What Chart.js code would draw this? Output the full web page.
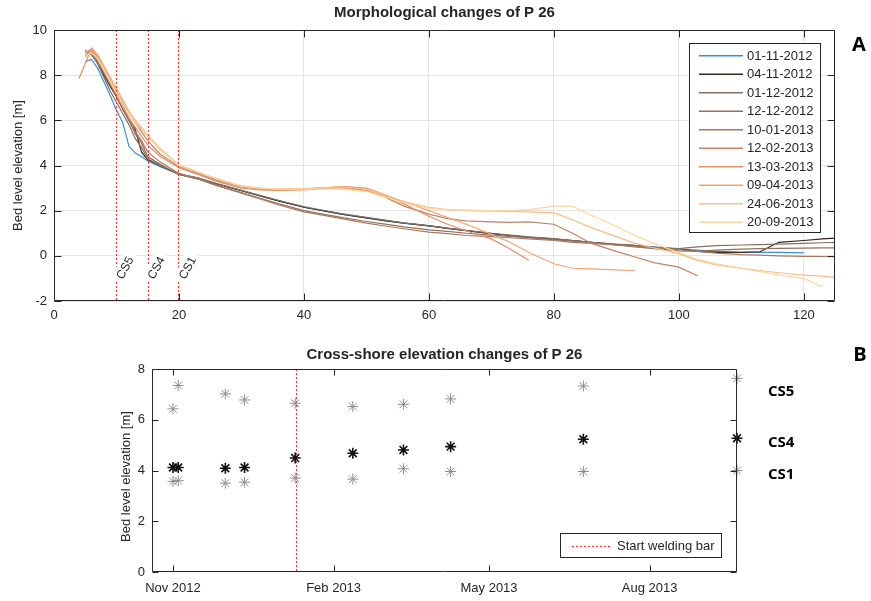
<!DOCTYPE html>
<html><head><meta charset="utf-8">
<script src="https://cdn.jsdelivr.net/npm/chart.js@4"></script>
<style>
html,body{margin:0;padding:0;background:#fff;}
#wrap{position:relative;width:871px;height:601px;overflow:hidden;background:#fff;}
canvas{position:absolute;left:0;}
#c1{top:0;}
#c2{top:330px;}
</style></head><body>
<div id="wrap">
<canvas id="c1" width="871" height="330" style="width:871px;height:330px"></canvas>
<canvas id="c2" width="871" height="271" style="width:871px;height:271px"></canvas>
</div>
<script>
// ---------------- DATA: panel A (profiles) ----------------
const profileDates = ['01-11-2012','04-11-2012','01-12-2012','12-12-2012','10-01-2013','12-02-2013','13-03-2013','09-04-2013','24-06-2013','20-09-2013'];
const distance = [4,5,6,7,8,9,10,11,12,13,14,15,17,20,23,26,30,33,36,40,43,46,50,53,56,60,63,66,70,73,76,80,83,86,90,93,96,100,103,106,110,113,116,120,123,125];
const elev_01_11_2012 = [null,8.6,8.7,8.3,7.7,7.1,6.45,5.9,4.85,4.55,4.4,4.2,3.95,3.62,3.45,3.2,2.9,2.65,2.45,2.15,2.0,1.85,1.68,1.55,1.45,1.33,1.22,1.12,0.98,0.9,0.83,0.75,0.68,0.6,0.5,0.45,0.4,0.3,0.25,0.2,0.15,0.15,0.15,0.13,null,null];
const elev_04_11_2012 = [null,8.9,9.0,8.6,8.0,7.5,7.05,6.5,6.0,5.6,4.6,4.25,4.0,3.6,3.42,3.18,2.88,2.65,2.42,2.15,2.0,1.85,1.68,1.56,1.45,1.33,1.22,1.12,0.98,0.9,0.82,0.74,0.67,0.6,0.5,0.45,0.38,0.3,0.2,0.15,0.15,0.18,0.6,0.68,0.75,0.78];
const elev_01_12_2012 = [null,9.1,8.9,8.5,7.9,7.3,6.8,6.3,5.8,5.2,4.8,4.3,4.0,3.62,3.45,3.2,2.9,2.68,2.45,2.18,2.02,1.87,1.7,1.58,1.46,1.34,1.23,1.13,1.0,0.92,0.84,0.76,0.68,0.6,0.52,0.46,0.38,0.32,0.4,0.45,0.48,0.5,0.52,0.55,0.58,0.6];
const elev_12_12_2012 = [null,8.8,9.0,8.6,8.1,7.6,7.1,6.5,6.0,5.4,5.0,4.4,4.05,3.6,3.4,3.12,2.8,2.55,2.3,2.0,1.85,1.7,1.52,1.4,1.28,1.15,1.08,1.0,0.92,0.86,0.8,0.72,0.65,0.58,0.48,0.4,0.32,0.22,0.2,0.25,0.3,0.32,0.33,0.34,0.35,0.35];
const elev_10_01_2013 = [null,9.0,9.1,8.7,8.2,7.7,7.2,6.6,6.1,5.5,5.1,4.6,4.15,3.65,3.42,3.12,2.78,2.52,2.25,1.95,1.8,1.65,1.45,1.32,1.2,1.05,0.98,0.9,0.85,0.8,0.75,0.68,0.6,0.55,0.48,0.42,0.35,0.28,0.2,0.12,0.05,0.03,0.0,-0.02,-0.03,-0.04];
const elev_12_02_2013 = [null,9.0,9.15,8.8,8.3,7.8,7.3,6.8,6.3,5.9,5.5,5.1,4.5,3.95,3.65,3.35,3.05,2.95,2.92,2.95,3.0,3.05,2.9,2.6,2.2,1.85,1.65,1.55,1.5,1.48,1.5,1.4,1.0,0.55,0.2,-0.05,-0.3,-0.5,-0.88,null,null,null,null,null,null,null];
const elev_13_03_2013 = [7.85,8.5,9.2,8.9,8.3,7.7,7.1,6.6,6.1,5.7,5.3,4.9,4.4,3.9,3.6,3.3,3.0,2.92,2.9,2.92,2.98,3.08,3.0,2.7,2.3,1.75,1.4,1.1,0.75,0.3,-0.2,null,null,null,null,null,null,null,null,null,null,null,null,null,null,null];
const elev_09_04_2013 = [null,9.0,9.1,8.9,8.4,7.9,7.4,6.9,6.4,6.0,5.6,5.3,4.7,4.0,3.7,3.4,3.05,2.95,2.95,2.98,3.0,3.0,2.88,2.65,2.4,2.0,1.7,1.4,0.95,0.6,0.15,-0.35,-0.55,-0.58,-0.62,-0.66,null,null,null,null,null,null,null,null,null,null];
const elev_24_06_2013 = [null,8.9,9.0,8.8,8.3,7.8,7.3,6.8,6.4,6.0,5.7,5.35,4.75,4.02,3.72,3.42,3.1,3.0,2.95,2.95,3.02,3.05,2.95,2.7,2.4,2.15,2.05,2.0,1.98,1.97,1.95,1.9,1.6,1.25,0.85,0.55,0.35,0.1,-0.2,-0.4,-0.55,-0.65,-0.75,-0.85,-0.9,-0.95];
const elev_20_09_2013 = [null,8.8,9.0,8.7,8.2,7.7,7.2,6.7,6.3,5.9,5.6,5.3,4.7,4.0,3.7,3.4,3.1,3.0,2.95,2.95,2.95,2.95,2.85,2.6,2.35,2.1,2.05,2.02,2.0,2.0,2.05,2.2,2.2,1.8,1.3,0.9,0.55,0.15,-0.15,-0.35,-0.55,-0.7,-0.85,-1.0,-1.38,null];
const topXTicks = [0,20,40,60,80,100,120];
const topYTicks = [-2,0,2,4,6,8,10];
const crossSectionDist = [10,15,20];
const crossSectionNames = ['CS5','CS4','CS1'];

// ---------------- DATA: panel B (cross-shore elevations) ----------------
const surveyDates = ['2012-11-01','2012-11-04','2012-12-01','2012-12-12','2013-01-10','2013-02-12','2013-03-13','2013-04-09','2013-06-24','2013-09-20'];
const cs5Elev = [6.43,7.35,7.02,6.78,6.65,6.52,6.61,6.82,7.33,7.63];
const cs4Elev = [4.12,4.12,4.09,4.12,4.49,4.68,4.81,4.94,5.23,5.27];
const cs1Elev = [3.57,3.60,3.50,3.54,3.70,3.66,4.07,3.96,3.96,4.00];
const weldDate = '2013-01-10';
const bottomXTickDates = ['2012-11-01','2013-02-01','2013-05-01','2013-08-01'];
const bottomXTickLabels = ['Nov 2012','Feb 2013','May 2013','Aug 2013'];
const bottomXRange = ['2012-10-20','2013-09-20'];
const bottomYTicks = [0,2,4,6,8];

// ---------------- STYLE ----------------
const FONT = "'Liberation Sans', Arial, Helvetica, sans-serif";
const TXT = '#262626';
const GRID = '#e4e4e4';
const RED = '#ff3030';
const lineColors = ['#3a8dd6','#35281f','#86705f','#93705c','#a77a60','#bd8666','#e0906a','#f3a375','#f8bd8a','#fcd6a0'];
const elevSeries = [elev_01_11_2012,elev_04_11_2012,elev_01_12_2012,elev_12_12_2012,elev_10_01_2013,elev_12_02_2013,elev_13_03_2013,elev_09_04_2013,elev_24_06_2013,elev_20_09_2013];

const even = v => 2*Math.round(v/2);
function dottedV(ctx, px, y0, y1) {
  ctx.fillStyle = RED;
  const c = even(px);
  for (let yy = y0; yy < y1; yy += 4) ctx.fillRect(c, yy, 1, 2);
}
function dottedH(ctx, py, x0, x1) {
  ctx.fillStyle = RED;
  const r = even(py);
  for (let xx = x0; xx < x1; xx += 4) ctx.fillRect(xx, r, 2, 1);
}

function drawFrame(ctx, a, xs, ys, xT, yT, len) {
  ctx.save();
  ctx.strokeStyle = TXT; ctx.lineWidth = 1; ctx.setLineDash([]);
  const L = Math.round(a.left)+0.5, R = Math.round(a.right)-0.5, T = Math.round(a.top)+0.5, B = Math.round(a.bottom)-0.5;
  ctx.beginPath(); ctx.rect(L, T, R-L, B-T); ctx.stroke();
  ctx.beginPath();
  xT.forEach(v => { const p = Math.round(xs.getPixelForValue(v))+0.5; ctx.moveTo(p,B); ctx.lineTo(p,B-len); ctx.moveTo(p,T); ctx.lineTo(p,T+len); });
  yT.forEach(v => { const p = Math.round(ys.getPixelForValue(v))+0.5; ctx.moveTo(L,p); ctx.lineTo(L+len,p); ctx.moveTo(R,p); ctx.lineTo(R-len,p); });
  ctx.stroke();
  ctx.restore();
}

const topDecor = {
  id: 'topDecor',
  afterDatasetsDraw(chart) {
    const {ctx, chartArea: a, scales: {x, y}} = chart;
    ctx.save();
    crossSectionDist.forEach(d => dottedV(ctx, x.getPixelForValue(d), a.top, a.bottom));
    ctx.font = '12px ' + FONT;
    crossSectionDist.forEach((d, i) => {
      const px = x.getPixelForValue(d) + 8.5, py = y.getPixelForValue(-0.53);
      ctx.save(); ctx.translate(px, py); ctx.rotate(-62*Math.PI/180);
      const w = ctx.measureText(crossSectionNames[i]).width;
      ctx.fillStyle = '#fff'; ctx.fillRect(-w/2-4, -8, w+8, 16);
      ctx.fillStyle = TXT; ctx.textAlign = 'center'; ctx.textBaseline = 'middle';
      ctx.fillText(crossSectionNames[i], 0, 0.5);
      ctx.restore();
    });
    ctx.restore();
    drawFrame(ctx, a, x, y, topXTicks, topYTicks, 7);
    ctx.save();
    // legend
    const lx0 = 689, ly0 = 43, lx1 = 821, ly1 = 233;
    ctx.fillStyle = '#fff'; ctx.fillRect(lx0, ly0, lx1-lx0, ly1-ly0);
    ctx.strokeStyle = TXT; ctx.lineWidth = 1; ctx.strokeRect(lx0+0.5, ly0+0.5, lx1-lx0-1, ly1-ly0-1);
    ctx.font = '13px ' + FONT; ctx.textBaseline = 'middle'; ctx.textAlign = 'left';
    profileDates.forEach((lab, i) => {
      const ry = 55.7 + i*18.5;
      ctx.strokeStyle = lineColors[i]; ctx.lineWidth = 1.5;
      ctx.beginPath(); ctx.moveTo(699, ry); ctx.lineTo(743, ry); ctx.stroke();
      ctx.fillStyle = TXT; ctx.fillText(lab, 747, ry+0.5);
    });
    // title, axis title, panel label
    ctx.fillStyle = TXT; ctx.textAlign = 'center';
    ctx.font = 'bold 15px ' + FONT; ctx.fillText('Morphological changes of P 26', (a.left+a.right)/2, 13);
    ctx.save(); ctx.translate(18, (a.top+a.bottom)/2); ctx.rotate(-Math.PI/2);
    ctx.font = '13px ' + FONT; ctx.fillText('Bed level elevation [m]', 0, 0); ctx.restore();
    ctx.fillStyle = '#000'; ctx.font = "bold 20px 'Open Sans', " + FONT; ctx.fillText('A', 859, 45);
    ctx.restore();
  }
};

new Chart(document.getElementById('c1'), {
  type: 'line',
  data: {
    datasets: profileDates.map((lab, i) => ({
      label: lab,
      data: distance.map((d, j) => ({x: d, y: elevSeries[i][j]})).filter(p => p.y !== null),
      borderColor: lineColors[i], backgroundColor: lineColors[i],
      borderWidth: 1.2, pointRadius: 0, fill: false, tension: 0,
      order: profileDates.length - i
    }))
  },
  options: {
    responsive: false, animation: false, events: [],
    layout: {padding: {top: 30, right: 36, left: 0, bottom: 0}},
    plugins: {legend: {display: false}, tooltip: {enabled: false}, title: {display: false}},
    scales: {
      x: {type: 'linear', min: 0, max: 125,
        afterBuildTicks: s => { s.ticks = topXTicks.map(v => ({value: v})); },
        afterFit: s => { s.height = 29; },
        grid: {color: GRID, drawTicks: false, lineWidth: 1},
        border: {display: false},
        ticks: {color: TXT, font: {family: FONT, size: 13}, padding: 7, maxRotation: 0, autoSkip: false}
      },
      y: {type: 'linear', min: -2, max: 10,
        afterBuildTicks: s => { s.ticks = topYTicks.map(v => ({value: v})); },
        afterFit: s => { s.width = 54; },
        grid: {color: GRID, drawTicks: false, lineWidth: 1},
        border: {display: false},
        ticks: {color: TXT, font: {family: FONT, size: 13}, padding: 7, autoSkip: false}
      }
    }
  },
  plugins: [topDecor]
});

// ---------------- panel B ----------------
const dayNum = s => { const [Y,M,D] = s.split('-').map(Number); return (Date.UTC(Y,M-1,D) - Date.UTC(2012,0,1))/864e5; };
const surveyDays = surveyDates.map(dayNum);
const bottomXTickDays = bottomXTickDates.map(dayNum);

const bottomDecor = {
  id: 'bottomDecor',
  beforeDatasetsDraw(chart) {
    const {ctx, chartArea: a, scales: {x}} = chart;
    ctx.save();
    dottedV(ctx, x.getPixelForValue(dayNum(weldDate)), a.top, a.bottom);
    ctx.restore();
  },
  afterDraw(chart) {
    const {ctx, chartArea: a, scales: {x, y}} = chart;
    drawFrame(ctx, a, x, y, bottomXTickDays, bottomYTicks, 6);
    ctx.save();
    // legend
    const lx0 = 560, ly0 = 203, lx1 = 722, ly1 = 228;
    ctx.fillStyle = '#fff'; ctx.fillRect(lx0, ly0, lx1-lx0, ly1-ly0);
    ctx.strokeStyle = TXT; ctx.lineWidth = 1; ctx.strokeRect(lx0+0.5, ly0+0.5, lx1-lx0-1, ly1-ly0-1);
    dottedH(ctx, 216, 572, 611);
    ctx.fillStyle = TXT; ctx.font = '13px ' + FONT; ctx.textAlign = 'left'; ctx.textBaseline = 'middle';
    ctx.fillText('Start welding bar', 617, 216.5);
    // titles
    ctx.textAlign = 'center';
    ctx.font = 'bold 15px ' + FONT; ctx.fillText('Cross-shore elevation changes of P 26', (a.left+a.right)/2, 25);
    ctx.save(); ctx.translate(126, (a.top+a.bottom)/2 + 6); ctx.rotate(-Math.PI/2);
    ctx.font = '13px ' + FONT; ctx.fillText('Bed level elevation [m]', 0, 0); ctx.restore();
    // series labels
    ctx.fillStyle = '#000'; ctx.textAlign = 'left';
    ctx.font = "bold 15px 'Open Sans', " + FONT;
    ctx.fillText('CS5', 768, 62); ctx.fillText('CS4', 768, 113); ctx.fillText('CS1', 768, 145);
    ctx.textAlign = 'center'; ctx.font = "bold 20px 'Open Sans', " + FONT; ctx.fillText('B', 860, 25);
    ctx.restore();
  }
};

const mkSet = (label, vals, color, bw) => ({
  label, data: surveyDays.map((d, i) => ({x: d, y: vals[i]})),
  showLine: false, pointStyle: 'star', pointRadius: 5.5, borderColor: color, backgroundColor: color,
  pointBorderWidth: bw, borderWidth: bw, clip: false
});

new Chart(document.getElementById('c2'), {
  type: 'scatter',
  data: {datasets: [mkSet('CS5', cs5Elev, '#8e8e8e', 1), mkSet('CS4', cs4Elev, '#111111', 1.6), mkSet('CS1', cs1Elev, '#8e8e8e', 1)]},
  options: {
    responsive: false, animation: false, events: [],
    layout: {padding: {top: 39, right: 134, left: 0, bottom: 0}},
    plugins: {legend: {display: false}, tooltip: {enabled: false}, title: {display: false}},
    scales: {
      x: {type: 'linear', min: dayNum(bottomXRange[0]), max: dayNum(bottomXRange[1]),
        afterBuildTicks: s => { s.ticks = bottomXTickDays.map(v => ({value: v})); },
        afterFit: s => { s.height = 29; },
        grid: {display: false, drawTicks: false},
        border: {display: false},
        ticks: {color: TXT, font: {family: FONT, size: 13}, padding: 9, maxRotation: 0, autoSkip: false,
          callback: (v, i) => bottomXTickLabels[i]}
      },
      y: {type: 'linear', min: 0, max: 8,
        afterBuildTicks: s => { s.ticks = bottomYTicks.map(v => ({value: v})); },
        afterFit: s => { s.width = 152; },
        grid: {display: false, drawTicks: false},
        border: {display: false},
        ticks: {color: TXT, font: {family: FONT, size: 13}, padding: 7, autoSkip: false}
      }
    }
  },
  plugins: [bottomDecor]
});
</script>
</body></html>
